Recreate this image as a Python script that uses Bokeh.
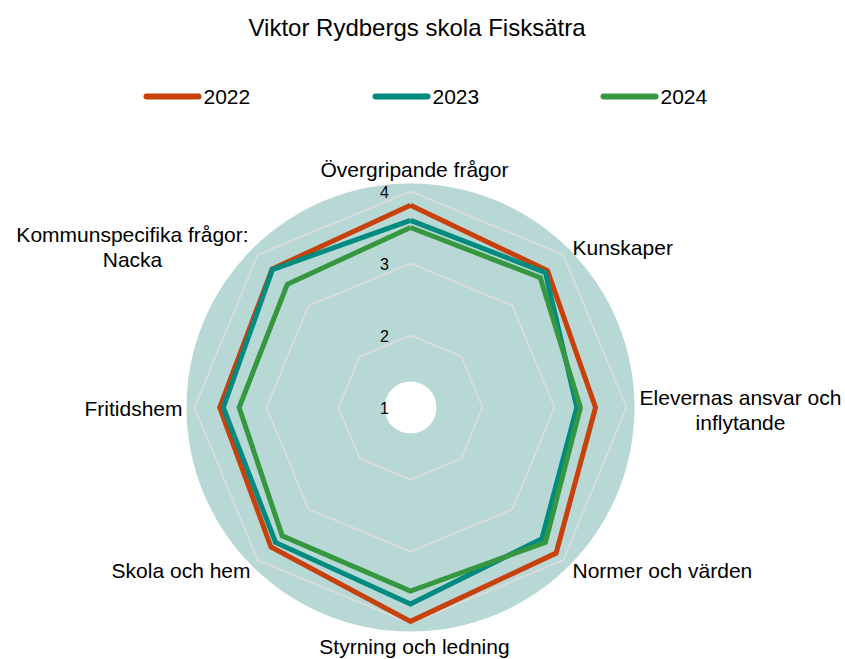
import math
from bokeh.plotting import figure
from bokeh.models import Range1d
from bokeh.core.properties import value
from bokeh.embed import file_html
from bokeh.resources import INLINE

# ---- data ----
title = "Viktor Rydbergs skola Fisksätra"
categories = ["Övergripande frågor", "Kunskaper", "Elevernas ansvar och\ninflytande",
              "Normer och värden", "Styrning och ledning", "Skola och hem",
              "Fritidshem", "Kommunspecifika frågor:\nNacka"]
years = ["2022", "2023", "2024"]
v2022 = [3.81, 3.69, 3.57, 3.86, 3.97, 3.74, 3.65, 3.72]
v2023 = [3.60, 3.65, 3.31, 3.58, 3.73, 3.65, 3.60, 3.71]
v2024 = [3.50, 3.55, 3.36, 3.65, 3.55, 3.52, 3.38, 3.42]
tick_values = [1, 2, 3, 4]
r_min = 1

# ---- styles ----
colors = ["#C8410B", "#008B80", "#35973F"]
disk_color = "#B8D8D5"
grid_color = "#DCDCDC"
FONT = "Liberation Sans"
PX = 72.0  # pixels per value unit

W, H = 845, 659
cx_px, cy_px = 410, 407  # centre in figure pixels
p = figure(width=W, height=H, output_backend="svg", toolbar_location=None,
           x_range=Range1d(-cx_px / PX, (W - cx_px) / PX),
           y_range=Range1d(-(H - cy_px) / PX, cy_px / PX),
           min_border=0)
p.axis.visible = False
p.grid.visible = False
p.outline_line_color = None
p.background_fill_color = "white"
p.border_fill_color = "white"

n = len(categories)
angles = [math.pi / 2 - 2 * math.pi * k / n for k in range(n)]


def polar(vals):
    xs = [(v - r_min) * math.cos(a) for v, a in zip(vals, angles)]
    ys = [(v - r_min) * math.sin(a) for v, a in zip(vals, angles)]
    return xs + xs[:1], ys + ys[:1]


# background disk with hole
p.annulus(x=0, y=0, inner_radius=26 / PX, outer_radius=224 / PX,
          fill_color=disk_color, line_color=None)

# grid octagons
for t in tick_values[1:]:
    gx, gy = polar([t] * n)
    p.line(gx, gy, line_color=grid_color, line_width=1.6)

# series
for vals, col in zip([v2022, v2023, v2024], colors):
    sx, sy = polar(vals)
    p.line(sx, sy, line_color=col, line_width=5, line_join="miter")

# tick labels
p.text(x=[-26 / PX] * len(tick_values), y=[t - r_min for t in tick_values],
       text=[str(t) for t in tick_values], text_font=value(FONT),
       text_font_size="16px", text_align="center", text_baseline="middle",
       text_color="#000000")

# category labels (layout anchors in pixels relative to centre)
anchors = [
    (4, 238, "center"),
    (162, 160, "left"),
    (330, -2, "center"),
    (162, -163, "left"),
    (4, -239, "center"),
    (-160, -163, "right"),
    (-228, -1, "right"),
    (-278, 161, "center"),
]
for lab, (ax, ay, al) in zip(categories, anchors):
    lines = lab.split("\n")
    nlines = len(lines)
    for i, ln in enumerate(lines):
        dy = (nlines - 1) * 12.5 - i * 25
        p.text(x=[ax / PX], y=[(ay + dy) / PX], text=[ln], text_font=value(FONT),
               text_font_size="21px", text_align=al, text_baseline="middle",
               text_color="#000000")

# title
p.text(x=[6.5 / PX], y=[(407 - 27) / PX], text=[title], text_font=value(FONT),
       text_font_size="24px", text_align="center", text_baseline="middle",
       text_color="#000000")

# legend
leg_y = (407 - 96) / PX
leg_x0 = [146, 375, 603]
for yr, col, x0 in zip(years, colors, leg_x0):
    p.line([(x0 - 410) / PX, (x0 + 52 - 410) / PX], [leg_y, leg_y],
           line_color=col, line_width=6, line_cap="round")
    p.text(x=[(x0 + 57 - 410) / PX], y=[leg_y], text=[yr], text_font=value(FONT),
           text_font_size="21px", text_align="left", text_baseline="middle",
           text_color="#000000")

open("out.html", "w").write(file_html(p, INLINE))
